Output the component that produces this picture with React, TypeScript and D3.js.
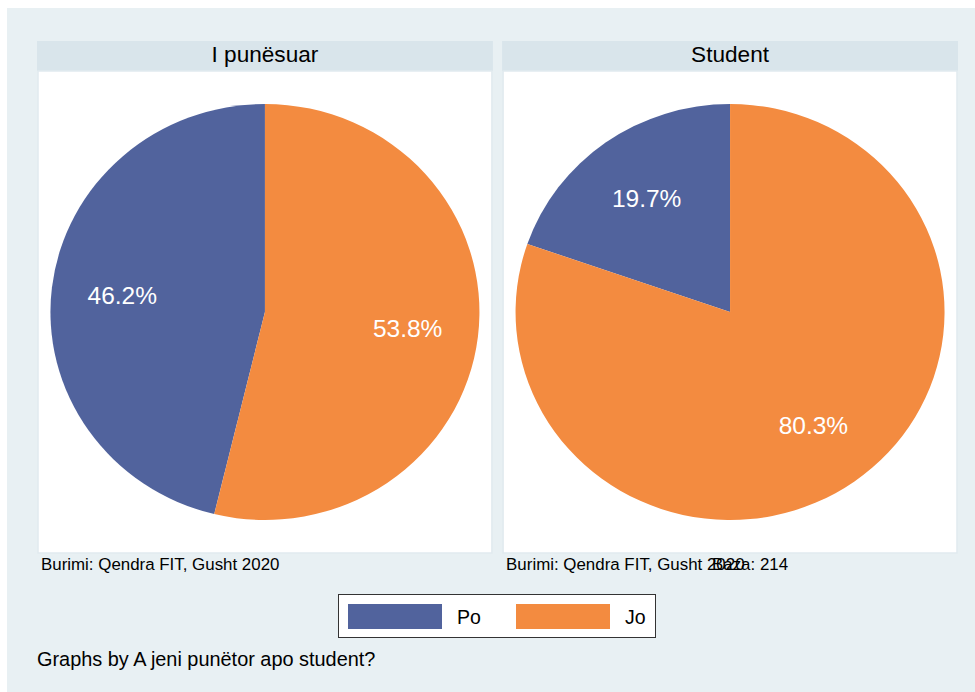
import React from "react";
import * as d3 from "d3";

const panels = ["I punësuar", "Student"];
const categories = ["Po", "Jo"];
const percentages = [
  [46.2, 53.8],
  [19.7, 80.3],
];
const notes = ["Burimi: Qendra FIT, Gusht 2020", "Burimi: Qendra FIT, Gusht 2020"];
const extraNote = "Baza: 214";
const byNote = "Graphs by A jeni punëtor apo student?";

const COLORS = ["#51639d", "#f38b40"];
const W = 975;
const H = 692;
const FONT = "'Liberation Sans', Arial, Helvetica, sans-serif";

export default function App() {
  const panelX = d3.scaleBand<number>().domain([0, 1]).range([37, 958]).paddingInner(0.0198);
  const headerTop = 41;
  const headerBot = 71;
  const plotBot = 553;
  const rx = 214.5;
  const ry = 208;
  const arc = d3.arc<d3.PieArcDatum<number>>().innerRadius(0).outerRadius(ry);
  const labelR = 0.67 * ry;
  const labelArc = d3.arc<d3.PieArcDatum<number>>().innerRadius(labelR).outerRadius(labelR);

  return (
    <div style={{ position: "absolute", left: 0, top: 0, width: W, height: H }}>
      <svg width={W} height={H} style={{ display: "block" }} fontFamily={FONT}>
        <rect x={0} y={0} width={W} height={H} fill="#ffffff" />
        <rect x={7} y={8} width={W - 7} height={H - 8} fill="#e8f0f3" />
        {panels.map((title, i) => {
          const x0 = panelX(i)!;
          const bw = panelX.bandwidth();
          const cx = x0 + bw / 2;
          const cy = (headerBot + plotBot) / 2;
          const vals = percentages[i];
          const total = d3.sum(vals);
          const start = (-vals[0] / total) * 2 * Math.PI;
          const pie = d3
            .pie<number>()
            .sort(null)
            .value((d) => d)
            .startAngle(start)
            .endAngle(start + 2 * Math.PI);
          const arcs = pie(vals);
          return (
            <g key={title}>
              <rect x={x0} y={headerTop} width={bw} height={headerBot - headerTop} fill="#d9e5eb" />
              <text x={cx} y={62} textAnchor="middle" fontSize={22.6} fill="#000">
                {title}
              </text>
              <rect
                x={x0 + 1}
                y={headerBot}
                width={bw - 2}
                height={plotBot - headerBot}
                fill="#ffffff"
                stroke="#e1eaef"
                strokeWidth={1.5}
              />
              <g transform={`translate(${cx},${cy}) scale(${rx / ry},1)`}>
                {arcs.map((a, j) => (
                  <path key={j} d={arc(a)!} fill={COLORS[j]} />
                ))}
              </g>
              {arcs.map((a, j) => {
                const [lx, ly] = labelArc.centroid(a);
                return (
                  <text
                    key={j}
                    x={cx + (lx * rx) / ry}
                    y={cy + ly}
                    dy="0.36em"
                    textAnchor="middle"
                    fontSize={24.5}
                    fill="#ffffff"
                  >
                    {vals[j].toFixed(1)}%
                  </text>
                );
              })}
              <text x={x0 + 4} y={570} fontSize={16.9} fill="#000">
                {notes[i]}
              </text>
            </g>
          );
        })}
        <text x={712} y={570} fontSize={16.9} fill="#000">
          {extraNote}
        </text>
        <rect x={338.5} y={594.5} width={317} height={43} fill="#ffffff" stroke="#333" strokeWidth={1} />
        {categories.map((c, j) => {
          const sx = j === 0 ? 348 : 516;
          return (
            <g key={c}>
              <rect x={sx} y={604} width={94} height={25} fill={COLORS[j]} />
              <text x={sx + 109} y={624} fontSize={19.5} fill="#000">
                {c}
              </text>
            </g>
          );
        })}
        <text x={37} y={666} fontSize={19.9} fill="#000">
          {byNote}
        </text>
      </svg>
    </div>
  );
}
